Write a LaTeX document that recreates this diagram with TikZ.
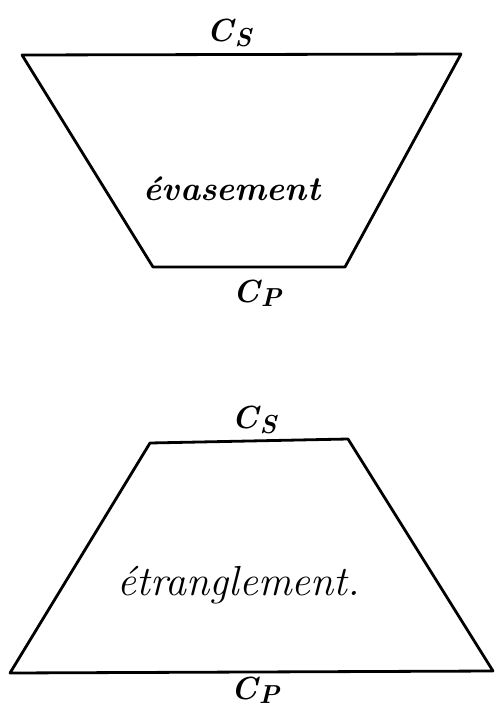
\documentclass[tikz,border=0pt]{standalone}
\usepackage{tikz}
\providecommand{\ShapeLine}{2.8pt}
\providecommand{\WordSize}{40}
% edge names: C with a lowered letter of almost the same size
\newcommand{\EdgeName}[1]{C\kern1.5pt\raisebox{-0.3ex}{\fontsize{26}{28}\selectfont #1}}
\tikzset{
    outline/.style={line width=\ShapeLine, line join=round},
    handword/.style={font=\fontsize{\WordSize}{44}\selectfont\itshape, inner sep=0pt, anchor=base},
    edgelabel/.style={font=\fontsize{32}{34}\selectfont\bfseries\itshape, inner sep=0pt}
}
\begin{document}
\begin{tikzpicture}[x=1pt,y=-1pt]

% Page background
\fill[white] (0,0) rectangle (495,709);
\useasboundingbox (0,0) rectangle (495,709);

% =====================================================
% UPPER TRAPEZOID (evasement)
% =====================================================
\coordinate (evTL) at (22,55);
\coordinate (evTR) at (461,54);
\coordinate (evBR) at (345,267);
\coordinate (evBL) at (153,267);

\draw[outline] (evTL) -- (evTR) -- (evBR) -- (evBL) -- cycle;

\node[edgelabel] (evCS) at (229,33) {\EdgeName{S}};
\node[edgelabel] (evCP) at (257,293) {\EdgeName{P}};
\node[handword, font=\fontsize{34}{38}\selectfont\bfseries\itshape] (evWord) at (232,200) {évasement};

% =====================================================
% LOWER TRAPEZOID (etranglement)
% =====================================================
\coordinate (etTL) at (150,443);
\coordinate (etTR) at (348,439);
\coordinate (etBR) at (493,671);
\coordinate (etBL) at (10,673);

\draw[outline] (etTL) -- (etTR) -- (etBR) -- (etBL) -- cycle;

\node[edgelabel] (etCS) at (254,420) {\EdgeName{S}};
\node[edgelabel] (etCP) at (255,690) {\EdgeName{P}};
\node[handword, font=\fontsize{42}{46}\selectfont\itshape] (etWord) at (239,595) {étranglement.};

\end{tikzpicture}
\end{document}
